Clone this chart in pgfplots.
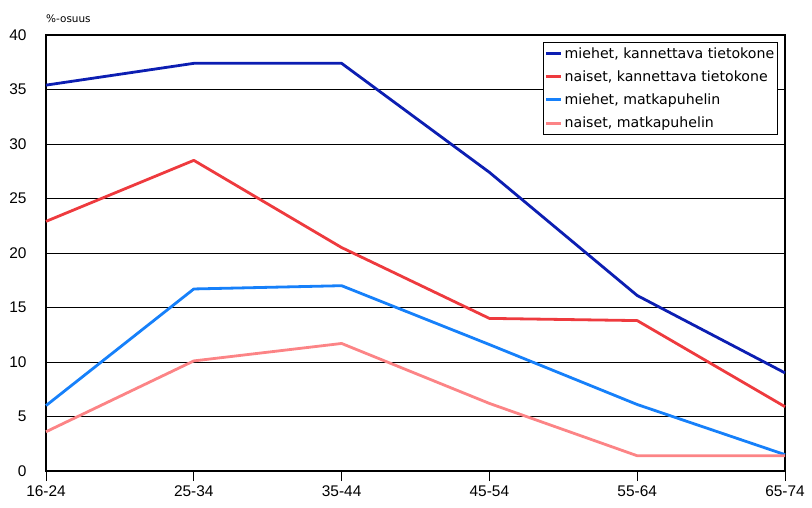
\documentclass[border=0pt]{standalone}
\usepackage{pgfplots}
\pgfplotsset{compat=1.18}
\usepackage{fontspec}
\setmainfont{DejaVu Sans}
\newfontfamily\tickfont{Liberation Sans}

\definecolor{mdark}{RGB}{12,30,178}
\definecolor{nred}{RGB}{238,58,62}
\definecolor{mlight}{RGB}{22,128,250}
\definecolor{npink}{RGB}{252,132,134}

\begin{document}
\begin{tikzpicture}
\begin{axis}[
    name=ax,
    scale only axis,
    width=739bp, height=436bp,
    xmin=0, xmax=5,
    ymin=0, ymax=40,
    xtick={0,1,2,3,4,5},
    xticklabels={16-24,25-34,35-44,45-54,55-64,65-74},
    ytick={0,5,...,40},
    ymajorgrids,
    major grid style={black, line width=0.8bp},
    axis line style={black, line width=1.2bp},
    x tick style={black, line width=1bp},
    xtick pos=bottom,
    major tick length=10bp,
    tick align=outside,
    y tick style={draw=none},
    ticklabel style={font=\tickfont\fontsize{15.5}{15.5}\selectfont},
    /pgf/number format/assume math mode=true,
    yticklabel style={xshift=-6bp},
    xticklabel style={yshift=-1bp},
    legend style={
        at={(rel axis cs:0.990,0.984)}, anchor=north east,
        draw=black, line width=0.8bp,
        font=\fontsize{14.2}{16}\selectfont,
        row sep=7bp, inner xsep=1bp, inner ysep=3bp,
        /tikz/every even column/.append style={column sep=0bp},
    },
    legend image code/.code={
        \draw[#1, line width=3bp] (0bp,0bp) -- (15bp,0bp);
    },
    legend cell align=left,
    every axis plot/.append style={line width=2.8bp, line join=round},
    clip=false,
]
\addplot[mdark] coordinates {(0,35.4) (1,37.4) (2,37.4) (3,27.4) (4,16.1) (5,9.0)};
\addlegendentry{miehet, kannettava tietokone}
\addplot[nred] coordinates {(0,22.9) (1,28.5) (2,20.5) (3,14.0) (4,13.8) (5,5.9)};
\addlegendentry{naiset, kannettava tietokone}
\addplot[mlight] coordinates {(0,6.0) (1,16.7) (2,17.0) (3,11.6) (4,6.1) (5,1.5)};
\addlegendentry{miehet, matkapuhelin}
\addplot[npink] coordinates {(0,3.6) (1,10.1) (2,11.7) (3,6.2) (4,1.4) (5,1.4)};
\addlegendentry{naiset, matkapuhelin}
\end{axis}
\node[anchor=south west, inner sep=0pt, font=\fontsize{10.5}{11}\selectfont]
    at ([yshift=12bp]ax.north west) {\%-osuus};
\path[use as bounding box] ([xshift=-46bp,yshift=-37bp]ax.south west) rectangle ++(812bp,508bp);
\end{tikzpicture}
\end{document}
